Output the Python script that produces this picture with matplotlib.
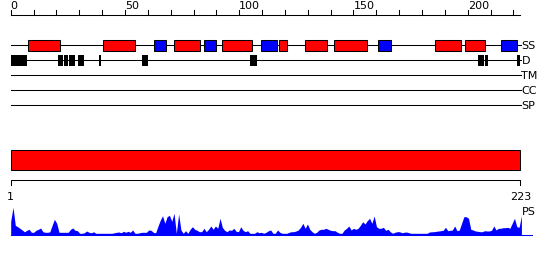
import numpy as np
import matplotlib.pyplot as plt
from matplotlib.patches import Rectangle

seq_len = 223

# secondary structure: (start, end) in sequence positions
helix = [(7.7, 21.7), (40.5, 54.5), (71.6, 82.7), (92.6, 105.7), (117.5, 120.8),
         (128.9, 138.6), (141.6, 155.8), (185.8, 196.9), (198.9, 207.7)]
strand = [(62.8, 67.8), (84.6, 89.7), (109.5, 116.5), (160.9, 166.6), (214.7, 221.7)]
disorder = [(0, 7), (20.7, 22.8), (23.3, 25), (25.5, 28), (29.5, 31.9), (38.5, 39.7),
            (57.5, 60), (104.9, 107.7), (204.6, 207), (207.4, 208.8), (221.7, 223)]

track_names = ["SS", "D", "TM", "CC", "SP"]
top_ticks = list(range(0, 221, 10))
top_labels = [0, 50, 100, 150, 200]

# profile score per residue (1..223)
ps = [14, 28, 10, 8.6, 7, 5.3, 3.5, 5, 6, 3, 3, 5, 6, 7.3, 3.6, 3, 3, 3.5, 10, 16,
      12, 3, 3, 3, 3, 3, 6, 7.3, 5, 4.6, 2, 2, 2.5, 4.3, 3, 2.5, 3.5, 2, 2, 2,
      2, 2, 2, 2, 2, 2.5, 3, 3.3, 2.5, 4, 3, 4, 3, 5.3, 2, 2, 2.5, 3, 3, 3,
      5.3, 5, 3, 2.5, 9, 15, 19.6, 12, 18.6, 20, 14, 22, 2, 21.3, 5.3, 2, 4.6, 2, 6, 8.6,
      6, 5, 3.6, 3.6, 7, 3.6, 6, 9.3, 6, 9.3, 7, 17, 8, 5, 3.6, 5.3, 5, 7, 4, 3.6,
      8.6, 5, 3.6, 4.6, 2, 2, 2, 3.6, 2.6, 3, 2, 3, 4.5, 5.3, 2, 2, 5.3, 3, 2, 2,
      2, 3, 3.6, 3.6, 4.3, 5.3, 8, 12, 7, 11.3, 6, 3.6, 2, 3, 5.3, 6, 6, 7, 6, 5,
      4.6, 4.6, 3, 2, 2, 5.3, 7, 9.3, 5.3, 7, 6, 7, 10, 13.6, 11.3, 14.6, 17, 12, 19.3, 8.6,
      7, 7, 8, 5, 6, 3.6, 2, 3, 3.6, 3.6, 2.6, 3, 3.3, 2.6, 2, 2, 2, 2, 2, 2,
      2, 2, 3.3, 3.5, 3.6, 4, 4.3, 4.6, 5, 8, 4.6, 5, 5.3, 9.3, 4.6, 5.3, 12, 18.6, 18.6, 17,
      6, 5.3, 4.3, 4, 3.6, 3.6, 4.6, 4.3, 4.3, 5, 9.3, 5.3, 7, 7, 7.6, 7.6, 8, 7, 12, 17,
      8.6, 8, 19.6]

fig = plt.figure(figsize=(5.5, 2.6), dpi=100)
ax = fig.add_axes([0, 0, 1, 1])
sc = 2.285
x0 = 10.7
ax.set_xlim(-x0 / sc, (550 - x0) / sc)
ax.set_ylim(260, 0)
ax.axis("off")
lw = 0.75
fs = 8

# top ruler
ax.plot([0, seq_len], [14.5, 14.5], color="black", lw=lw)
for t in top_ticks:
    ax.plot([t, t], [10, 14.5], color="black", lw=lw)
for t in top_labels:
    ax.text(t, 9.3, str(t), fontsize=fs, ha="left", va="baseline")

# tracks
track_y = [45.3, 60.3, 75.3, 90.3, 105.3]
for name, y in zip(track_names, track_y):
    ax.plot([0, seq_len + 0.5], [y, y], color="black", lw=lw, zorder=1)
    ax.text(seq_len + 0.5, y + 4, name, fontsize=fs, ha="left", va="baseline")

for s, e in helix:
    ax.add_patch(Rectangle((s, 40), e - s, 10.7, facecolor="#ff0000",
                           edgecolor="black", lw=lw, zorder=2))
for s, e in strand:
    ax.add_patch(Rectangle((s, 40), e - s, 10.7, facecolor="#0000ff",
                           edgecolor="black", lw=lw, zorder=2))
for s, e in disorder:
    ax.add_patch(Rectangle((s, 55), e - s, 10.7, facecolor="black",
                           lw=0, zorder=2))

# domain bar
ax.add_patch(Rectangle((0, 150), seq_len, 20.3, facecolor="#ff0000",
                       edgecolor="black", lw=lw))

# bottom ruler
ax.plot([0, 0, seq_len, seq_len], [185, 180.3, 180.3, 185], color="black", lw=lw)
ax.text(0, 200, "1", fontsize=fs, ha="center", va="baseline")
ax.text(seq_len, 200, str(seq_len), fontsize=fs, ha="center", va="baseline")
ax.text(seq_len + 0.5, 215, "PS", fontsize=fs, ha="left", va="baseline")

# profile
base = 235.3
pos = np.linspace(0, seq_len + 0.5, len(ps))
ax.fill_between(pos, base, base - np.array(ps), color="#0000ff", lw=0)
ax.plot([0, (531.7 - x0) / sc], [base, base], color="#0000ff", lw=lw)

fig.savefig("out.png", dpi=100)
